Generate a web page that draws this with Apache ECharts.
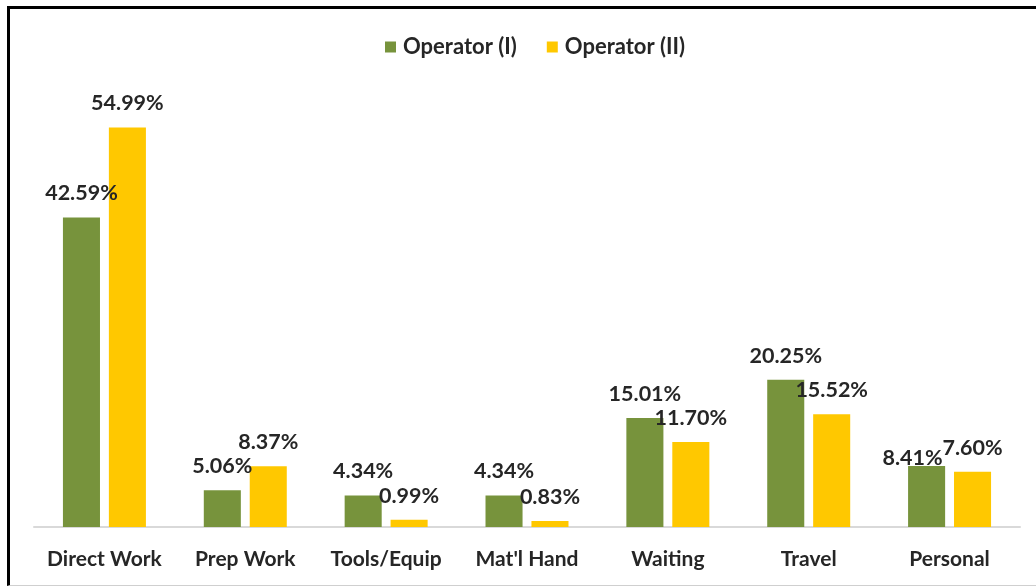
<!DOCTYPE html>
<html>
<head>
<meta charset="utf-8">
<script src="https://cdn.jsdelivr.net/npm/echarts@6/dist/echarts.min.js"></script>
<style>
html,body{margin:0;padding:0;background:#fff;}
#frame{position:absolute;left:7px;top:6px;width:1040px;height:580px;border-left:3px solid #000;border-top:3px solid #000;border-bottom:1px solid #cfcfcf;box-sizing:border-box;}
#chart{position:absolute;left:0;top:0;width:1036px;height:588px;}
</style>
</head>
<body>
<div id="frame"></div>
<div id="chart"></div>
<script>
const categories = ["Direct Work", "Prep Work", "Tools/Equip", "Mat'l Hand", "Waiting", "Travel", "Personal"];
const operatorI = [42.59, 5.06, 4.34, 4.34, 15.01, 20.25, 8.41];
const operatorII = [54.99, 8.37, 0.99, 0.83, 11.70, 15.52, 7.60];
const seriesNames = ["Operator (I)", "Operator (II)"];

const FONT = "Lato";
const labelStyle = {
  show: true, position: 'top', distance: 13,
  fontFamily: FONT, fontWeight: 'bold', fontSize: 21.5, color: '#262626',
  formatter: p => p.value.toFixed(2) + '%'
};

const chart = echarts.init(document.getElementById('chart'));
chart.setOption({
  animation: false,
  backgroundColor: 'transparent',
  legend: {
    top: 31, left: 380, itemWidth: 11, itemHeight: 11, itemGap: 30,
    icon: 'rect',
    textStyle: { fontFamily: FONT, fontWeight: 'bold', fontSize: 22, color: '#262626', padding: [0, 0, 0, 2] },
    data: seriesNames
  },
  grid: { left: 34, right: 16, top: 91, bottom: 61, containLabel: false },
  xAxis: {
    type: 'category', data: categories,
    axisLine: { lineStyle: { color: '#d9d9d9', width: 2 } },
    axisTick: { show: false },
    axisLabel: { margin: 22, fontFamily: FONT, fontWeight: 'bold', fontSize: 21, color: '#262626', interval: 0 }
  },
  yAxis: { type: 'value', min: 0, max: 60, show: false, splitLine: { show: false } },
  series: [
    {
      name: seriesNames[0], type: 'bar', data: operatorI.map((v, i) => i === 6 ? { value: v, label: { offset: [-14, 16] } } : v),
      barWidth: '26.3%', barGap: '24%',
      itemStyle: { color: '#77933c' }, label: labelStyle
    },
    {
      name: seriesNames[1], type: 'bar', data: operatorII,
      barWidth: '26.3%', barGap: '24%',
      itemStyle: { color: '#ffc800' }, label: labelStyle
    }
  ]
});
</script>
</body>
</html>
